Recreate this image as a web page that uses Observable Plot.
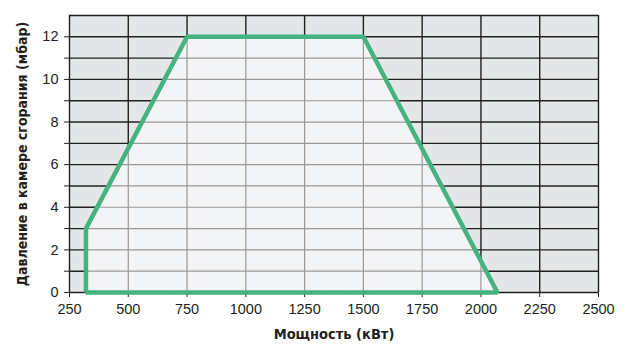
<!DOCTYPE html>
<html>
<head>
<meta charset="utf-8">
<script src="https://cdn.jsdelivr.net/npm/d3@7"></script>
<script src="https://cdn.jsdelivr.net/npm/@observablehq/plot@0.6"></script>
<style>
  html, body { margin: 0; padding: 0; background: #fff; }
  svg { display: block; }
</style>
</head>
<body>
<div id="chart"></div>
<script>
// Envelope of the burner working field
const powerKW = [320, 320, 750, 1500, 2070, 320];
const pressure = [0, 3, 12, 12, 0, 0];
const xTicks = [250, 500, 750, 1000, 1250, 1500, 1750, 2000, 2250, 2500];
const yTicks = [0, 1, 2, 3, 4, 5, 6, 7, 8, 9, 10, 11, 12, 13];
const xLabel = "Мощность (кВт)";
const yLabel = "Давление в камере сгорания (мбар)";

const pts = powerKW.map((x, i) => ({x, y: pressure[i]}));
const upperPts = pts.slice(1, 5);
const upper = d3.scaleLinear().domain(upperPts.map(d => d.x)).range(upperPts.map(d => d.y));
const leftEdge = d3.scaleLinear().domain([pressure[1], pressure[2]]).range([powerKW[1], powerKW[2]]);
const rightEdge = d3.scaleLinear().domain([pressure[3], pressure[4]]).range([powerKW[3], powerKW[4]]);
const xmin = d3.min(powerKW), xmax = d3.max(powerKW);

const innerV = xTicks.filter(x => x > xmin && x < xmax).map(x => ({x, y1: 0, y2: upper(x)}));
const innerH = yTicks.filter(y => y > 0 && y < d3.max(pressure)).map(y => ({
  y,
  x1: y <= pressure[1] ? powerKW[1] : leftEdge(y),
  x2: rightEdge(y)
}));

const dark = "#231f20";
const labelFont = "DejaVu Sans Condensed, Liberation Sans Narrow, sans-serif";
const chart = Plot.plot({
  width: 635,
  height: 348,
  marginLeft: 69,
  marginRight: 37,
  marginTop: 15,
  marginBottom: 56,
  style: {fontFamily: "Liberation Sans, Arial, sans-serif", fontSize: "14.5px", color: dark, background: "#fff"},
  x: {domain: [250, 2500], ticks: xTicks, tickSize: 5, tickPadding: 6, label: null, tickFormat: d => String(d)},
  y: {domain: [0, 13], ticks: yTicks.filter(d => d <= 12), tickSize: 5, tickPadding: 6, label: null,
      tickFormat: d => d % 2 === 0 ? String(d) : ""},
  marks: [
    Plot.frame({fill: "#e3e7e8", stroke: null}),
    Plot.ruleX(xTicks, {stroke: dark, strokeWidth: 1.4}),
    Plot.ruleY(yTicks, {stroke: dark, strokeWidth: 1.4}),
    Plot.areaY(upperPts, {x: "x", y1: 0, y2: "y", fill: "#f3f4f6"}),
    Plot.ruleX(innerV, {x: "x", y1: "y1", y2: "y2", stroke: "#999", strokeWidth: 1.2}),
    Plot.ruleY(innerH, {y: "y", x1: "x1", x2: "x2", stroke: "#999", strokeWidth: 1.2}),
    Plot.line(pts, {x: "x", y: "y", stroke: "#45b281", strokeWidth: 4.5, strokeLinejoin: "miter", strokeLinecap: "butt"}),
    Plot.text([xLabel], {frameAnchor: "bottom", dy: 46, text: d => d, fontWeight: "bold", fontSize: 14.5,
      fontFamily: labelFont, fill: dark, textAnchor: "middle"}),
    Plot.text([yLabel], {frameAnchor: "left", dx: -47, rotate: -90, text: d => d, fontWeight: "bold", fontSize: 14,
      fontFamily: labelFont, fill: dark, textAnchor: "middle"})
  ]
});
document.getElementById("chart").appendChild(chart);
</script>
</body>
</html>
